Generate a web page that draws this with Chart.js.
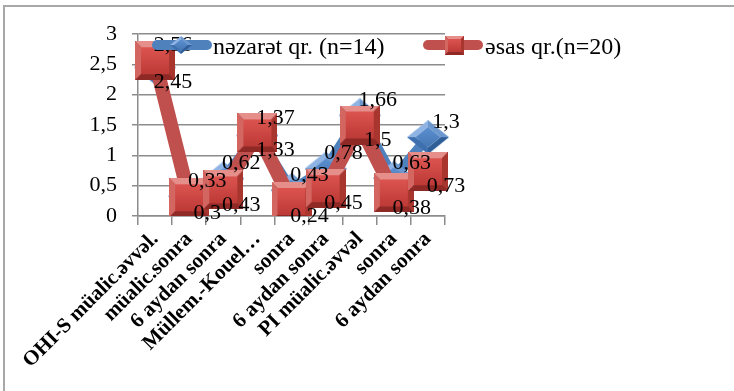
<!DOCTYPE html>
<html>
<head>
<meta charset="utf-8">
<script src="https://cdn.jsdelivr.net/npm/chart.js@4/dist/chart.umd.min.js"></script>
<style>
  html, body { margin: 0; padding: 0; background: #fff; }
  #wrap { position: relative; width: 734px; height: 391px; overflow: hidden; }
  #chart { position: absolute; left: 0; top: 0; }
  .frameTop { position: absolute; left: 3px; top: 5px; width: 731px; height: 2px; background: #a8a8a8; }
  .frameLeft { position: absolute; left: 3px; top: 5px; width: 2px; height: 386px; background: #a8a8a8; }
  .lg-bar { position: absolute; height: 10px; border-radius: 5px; }
  .lg-sym { position: absolute; }
  .lg-text { position: absolute; font-family: "Liberation Serif", "Times New Roman", Times, serif; font-size: 24px; color: #000; line-height: 26px; white-space: nowrap; }
</style>
</head>
<body>
<div id="wrap">
  <canvas id="chart" width="734" height="391"></canvas>
  <div class="frameTop"></div>
  <div class="frameLeft"></div>
  <div class="lg-bar" style="left:152px;top:40px;width:60px;background:#4F81BD"></div>
  <canvas class="lg-sym" id="lgBlue" width="22" height="18" style="left:170px;top:36px"></canvas>
  <div class="lg-text" style="left:213px;top:33px">nəzarət qr. (n=14)</div>
  <div class="lg-bar" style="left:423px;top:40px;width:60px;background:#C0504D"></div>
  <canvas class="lg-sym" id="lgRed" width="19" height="19" style="left:445px;top:36px"></canvas>
  <div class="lg-text" style="left:485px;top:33px">əsas qr.(n=20)</div>
</div>
<script>
// kateqoriyalar və qiymətlər
const categories = [
  'OHI-S müalic.əvvəl.', 'müalic.sonra', '6 aydan sonra',
  'Müllem.-Kouel…', 'sonra', '6 aydan sonra',
  'PI müalic.əvvəl', 'sonra', '6 aydan sonra'
];
const controlValues = [2.45, 0.33, 0.62, 1.33, 0.43, 0.78, 1.66, 0.63, 1.3];
const mainValues = [2.56, 0.3, 0.43, 1.37, 0.24, 0.45, 1.5, 0.38, 0.73];
const yTicks = [0, 0.5, 1, 1.5, 2, 2.5, 3];
const seriesNames = ['nəzarət qr. (n=14)', 'əsas qr.(n=20)'];

const serif = '"Liberation Serif", "Times New Roman", Times, serif';

function fmt(v) {
  return String(v).replace('.', ',');
}

// 3D kvadrat marker
function drawSquare(c) {
  const ctx = c.getContext('2d');
  const w = c.width, h = c.height;
  const b = Math.max(2, Math.round(w * 0.15));
  ctx.fillStyle = '#8a2a27';
  ctx.fillRect(0, 0, w, h);
  ctx.fillStyle = '#e58e8a';
  ctx.beginPath(); ctx.moveTo(0, 0); ctx.lineTo(w, 0); ctx.lineTo(w - b, b); ctx.lineTo(b, b); ctx.closePath(); ctx.fill();
  ctx.fillStyle = '#d46662';
  ctx.beginPath(); ctx.moveTo(0, 0); ctx.lineTo(b, b); ctx.lineTo(b, h - b); ctx.lineTo(0, h); ctx.closePath(); ctx.fill();
  ctx.fillStyle = '#a8362f';
  ctx.beginPath(); ctx.moveTo(w, 0); ctx.lineTo(w, h); ctx.lineTo(w - b, h - b); ctx.lineTo(w - b, b); ctx.closePath(); ctx.fill();
  ctx.fillStyle = '#8f2926';
  ctx.beginPath(); ctx.moveTo(0, h); ctx.lineTo(b, h - b); ctx.lineTo(w - b, h - b); ctx.lineTo(w, h); ctx.closePath(); ctx.fill();
  const g = ctx.createLinearGradient(0, b, 0, h - b);
  g.addColorStop(0, '#dc5450');
  g.addColorStop(1, '#bd3a36');
  ctx.fillStyle = g;
  ctx.fillRect(b, b, w - 2 * b, h - 2 * b);
}

// 3D romb marker
function drawDiamond(c) {
  const ctx = c.getContext('2d');
  const w = c.width, h = c.height;
  const cx = w / 2, cy = h / 2;
  const ix = w * 0.2, iy = h * 0.2;
  const T = [cx, 0], R = [w, cy], B = [cx, h], L = [0, cy];
  const t = [cx, iy], r = [w - ix, cy], bb = [cx, h - iy], l = [ix, cy];
  function poly(pts, col) {
    ctx.fillStyle = col;
    ctx.beginPath();
    ctx.moveTo(pts[0][0], pts[0][1]);
    for (let i = 1; i < pts.length; i++) ctx.lineTo(pts[i][0], pts[i][1]);
    ctx.closePath();
    ctx.fill();
  }
  poly([L, T, t, l], '#8fb4e3');
  poly([T, R, r, t], '#6d98cf');
  poly([R, B, bb, r], '#2f5e98');
  poly([B, L, l, bb], '#3e6fae');
  const g = ctx.createLinearGradient(0, iy, 0, h - iy);
  g.addColorStop(0, '#5b8fd0');
  g.addColorStop(1, '#4677b4');
  poly([t, r, bb, l], g);
}

const squareImg = document.createElement('canvas');
squareImg.width = 40; squareImg.height = 39;
drawSquare(squareImg);
const diamondImg = document.createElement('canvas');
diamondImg.width = 42; diamondImg.height = 34;
drawDiamond(diamondImg);
drawSquare(document.getElementById('lgRed'));
drawDiamond(document.getElementById('lgBlue'));

// qiymət etiketləri
const valueLabels = {
  id: 'valueLabels',
  afterDatasetsDraw(chart) {
    const ctx = chart.ctx;
    const m0 = chart.getDatasetMeta(0).data;
    const m1 = chart.getDatasetMeta(1).data;
    ctx.save();
    ctx.font = '22px ' + serif;
    ctx.fillStyle = '#000';
    ctx.textAlign = 'center';
    ctx.textBaseline = 'middle';
    for (let i = 0; i < categories.length; i++) {
      const a = m0[i], b = m1[i];
      const aUp = controlValues[i] >= mainValues[i];
      ctx.fillText(fmt(controlValues[i]), a.x + 18, a.y + (aUp ? -15 : 15));
      ctx.fillText(fmt(mainValues[i]), b.x + 18, b.y + (aUp ? 15 : -15));
    }
    ctx.restore();
  }
};

const gridGray = '#8c8c8c';

new Chart(document.getElementById('chart'), {
  type: 'line',
  data: {
    labels: categories,
    datasets: [
      {
        label: seriesNames[0],
        data: controlValues,
        borderColor: '#4F81BD',
        backgroundColor: '#4F81BD',
        borderWidth: 10,
        pointStyle: diamondImg,
        order: 1
      },
      {
        label: seriesNames[1],
        data: mainValues,
        borderColor: '#C0504D',
        backgroundColor: '#C0504D',
        borderWidth: 14,
        pointStyle: squareImg,
        order: 0
      }
    ]
  },
  options: {
    responsive: false,
    animation: false,
    devicePixelRatio: 1,
    events: [],
    layout: { padding: { top: 34, right: 289, left: 0, bottom: 0 } },
    plugins: {
      legend: { display: false },
      tooltip: { enabled: false }
    },
    scales: {
      y: {
        min: 0,
        max: 3,
        afterBuildTicks(scale) {
          scale.ticks = yTicks.map(v => ({ value: v }));
        },
        afterFit(scale) { scale.width = 138; },
        ticks: {
          autoSkip: false,
          callback: v => fmt(v),
          color: '#000',
          font: { family: serif, size: 22 },
          padding: 15
        },
        grid: { color: gridGray, lineWidth: 1.5, tickLength: 6 },
        border: { color: gridGray, width: 1.5 }
      },
      x: {
        offset: true,
        afterFit(scale) { scale.height = 175; },
        ticks: {
          autoSkip: false,
          minRotation: 45,
          maxRotation: 45,
          color: '#000',
          font: { family: serif, size: 21, weight: 'bold' },
          padding: 2
        },
        grid: { offset: true, drawOnChartArea: false, tickLength: 9, color: gridGray, lineWidth: 1.5 },
        border: { color: gridGray, width: 1.5 }
      }
    }
  },
  plugins: [valueLabels]
});
</script>
</body>
</html>
